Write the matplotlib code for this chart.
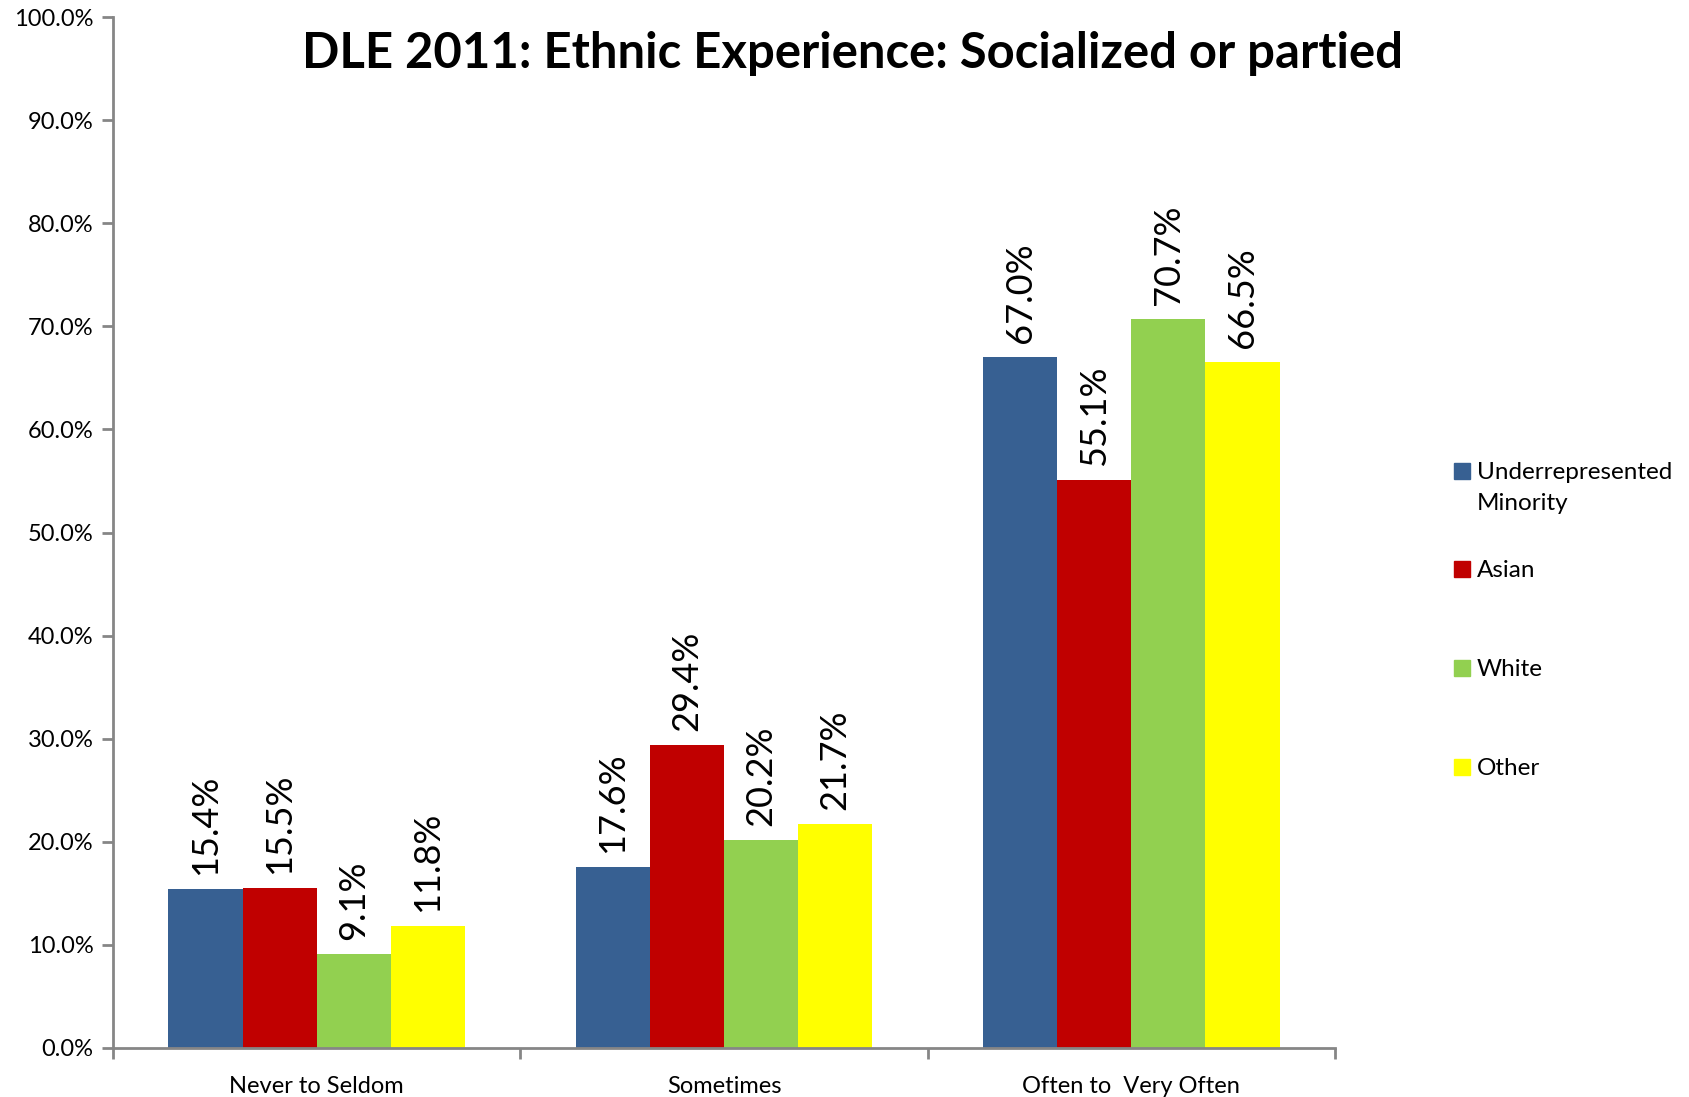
import matplotlib
matplotlib.use("Agg")
import matplotlib.pyplot as plt
from matplotlib.patches import Rectangle
import numpy as np

plt.rcParams['font.family'] = ['Lato', 'DejaVu Sans']

categories = ["Never to Seldom", "Sometimes", "Often to  Very Often"]
series_names = ["Underrepresented\nMinority", "Asian", "White", "Other"]
series_values = [
    [15.4, 17.6, 67.0],
    [15.5, 29.4, 55.1],
    [9.1, 20.2, 70.7],
    [11.8, 21.7, 66.5],
]
colors = ["#376092", "#C00000", "#92D050", "#FFFF00"]
yticks = np.arange(0, 101, 10)
ytick_labels = [f"{v:.1f}%" for v in yticks]
title = "DLE 2011: Ethnic Experience: Socialized or partied"

W, H = 1690, 1097
fig = plt.figure(figsize=(W / 100, H / 100), dpi=100)
ax = fig.add_axes([113 / W, 1 - 1048 / H, (1335 - 113) / W, (1048 - 17) / H])

n = len(series_names)
bw = 0.182
x = np.arange(len(categories))
for i, (name, vals, c) in enumerate(zip(series_names, series_values, colors)):
    pos = x + (i - (n - 1) / 2) * bw
    ax.bar(pos, vals, width=bw, color=c, edgecolor='none', zorder=2)
    for px, v in zip(pos, vals):
        ax.annotate(f"{v:.1f}%", (px, v), xytext=(0, 10), textcoords='offset points',
                    rotation=90, ha='center', va='bottom', fontsize=26, color='black')

ax.set_xlim(-0.5, len(categories) - 0.5)
ax.set_ylim(0, 100)
ax.set_yticks(yticks)
ax.set_yticklabels(ytick_labels, fontsize=17)
ax.set_xticks(np.arange(len(categories) + 1) - 0.5)
ax.set_xticklabels([])
ax.set_xticks(x, minor=True)
ax.set_xticklabels(categories, minor=True, fontsize=17)
ax.tick_params(axis='x', which='minor', length=0, pad=20)
ax.tick_params(axis='x', which='major', length=8, width=2, color='#868686')
ax.tick_params(axis='y', length=8, width=2, color='#868686', pad=6)
for s in ['top', 'right']:
    ax.spines[s].set_visible(False)
for s in ['left', 'bottom']:
    ax.spines[s].set_color('#868686')
    ax.spines[s].set_linewidth(2)

fig.text(853 / W, 1 - 53 / H, title, ha='center', va='center', fontsize=35.3, fontweight='bold')

# legend
leg_y = [471, 569, 668, 767]
for name, c, yy in zip(series_names, colors, leg_y):
    fig.patches.append(Rectangle((1454 / W, 1 - (yy + 8) / H), 16 / W, 16 / H,
                                 transform=fig.transFigure, color=c))
    for k, line in enumerate(name.split("\n")):
        fig.text(1477 / W, 1 - (yy + 8 + k * 31) / H, line, ha='left', va='baseline',
                 fontsize=17.5)

fig.savefig("out.png", dpi=100)
